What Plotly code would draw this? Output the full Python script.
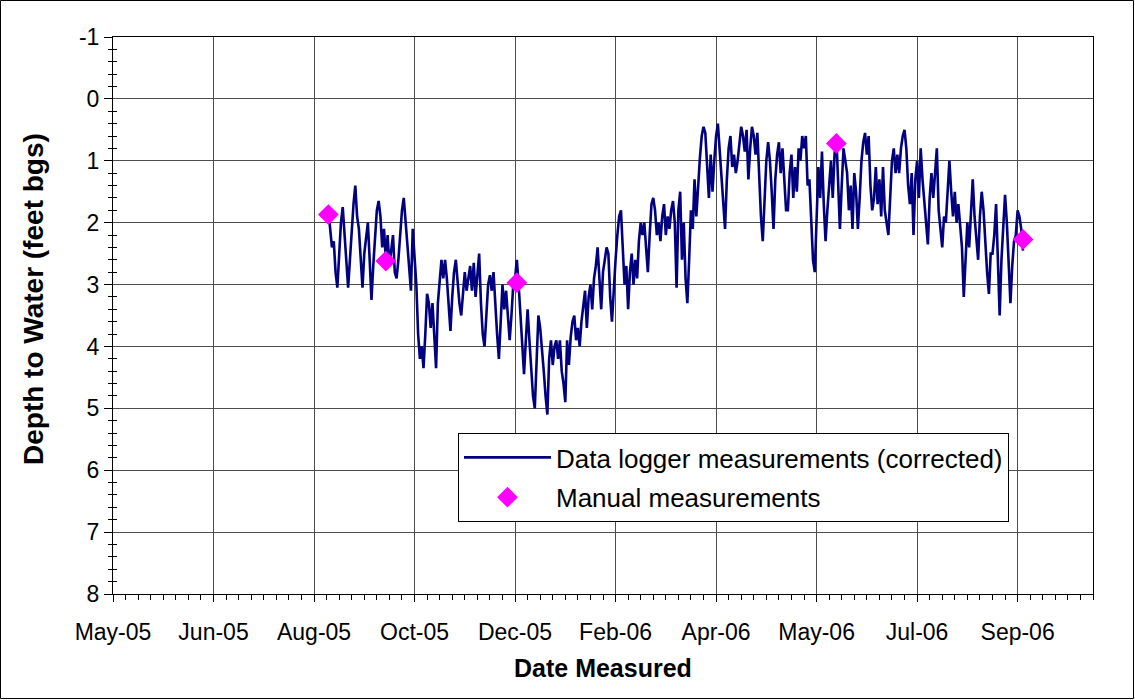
import pandas as pd
import plotly.graph_objects as go

# ---------------- data ----------------
LOGGER_START = "2005-08-29"   # first daily logger reading
LOGGER_DEPTH = [
    1.8, 2.1, 2.4, 2.3, 2.8, 3.05, 2.5, 2.0, 1.75, 2.2,
    2.7, 3.05, 2.6, 2.1, 1.7, 1.4, 1.9, 2.1, 2.6, 3.05,
    2.5, 2.2, 2.0, 2.6, 3.25, 2.7, 2.3, 1.8, 1.65, 1.9,
    2.4, 2.1, 2.6, 2.2, 2.7, 2.4, 2.2, 2.8, 2.9, 2.6,
    2.2, 1.8, 1.6, 2.0, 2.3, 2.8, 3.1, 2.1, 2.6, 3.0,
    3.8, 4.2, 4.0, 4.35, 3.8, 3.15, 3.3, 3.7, 3.3, 3.9,
    4.35, 3.3, 3.0, 2.6, 2.9, 2.6, 2.9, 3.4, 3.75, 3.2,
    2.8, 2.6, 3.0, 3.3, 3.5, 3.2, 2.8, 3.1, 2.9, 2.7,
    3.1, 2.65, 3.2, 2.9, 2.5, 3.3, 3.8, 4.0, 3.5, 3.0,
    2.85, 3.1, 2.8, 3.4, 3.8, 4.2, 3.6, 3.0, 3.4, 3.1,
    3.5, 3.9, 3.5, 3.0, 2.9, 2.6, 3.0, 3.5, 4.0, 4.45,
    3.9, 3.4, 3.9, 4.3, 4.8, 5.0, 4.2, 3.5, 3.7, 4.0,
    4.4, 4.8, 5.1, 4.2, 3.9, 4.3, 4.0, 3.9, 4.2, 3.9,
    4.4, 4.6, 4.9, 3.9, 4.3, 3.85, 3.6, 3.5, 3.9, 3.7,
    4.0, 3.6, 3.3, 3.1, 3.7, 3.2, 3.0, 3.4, 2.9, 2.7,
    2.4, 2.9, 3.4, 2.8, 2.6, 2.4, 2.5, 3.2, 3.6, 3.0,
    2.6, 2.2, 1.9, 1.8, 2.4, 3.0, 2.7, 3.4, 2.8, 2.5,
    3.0, 2.6, 2.9, 2.3, 2.0, 2.2, 2.0, 2.5, 2.8, 2.2,
    1.7, 1.6, 1.8, 2.2, 2.0, 2.3, 1.9, 1.7, 2.2, 1.9,
    2.1, 1.8, 1.65, 2.0, 3.05, 1.8, 1.5, 2.6, 2.0, 2.9,
    3.3, 2.6, 1.8, 2.1, 1.3, 1.9, 1.3, 0.95, 0.6, 0.45,
    0.55, 1.0, 1.6, 0.9, 1.5, 1.0, 0.6, 0.4, 0.8, 1.2,
    1.6, 2.1, 1.3, 0.8, 0.6, 1.1, 0.9, 1.2, 1.0, 0.7,
    0.45, 0.6, 0.85, 0.5, 1.3, 0.8, 0.45, 0.6, 0.9, 0.55,
    1.25, 1.9, 2.3, 1.7, 1.0, 0.7, 1.0, 1.5, 2.1, 1.3,
    0.9, 0.7, 1.2, 0.8, 1.4, 1.8, 1.8, 1.2, 0.9, 1.6,
    1.1, 1.5, 0.8, 1.0, 0.6, 0.8, 0.6, 1.4, 1.3, 2.0,
    2.6, 2.8, 1.8, 1.1, 1.6, 0.85, 1.7, 2.3, 1.8, 1.3,
    1.0, 1.6, 0.9, 0.6, 1.3, 2.1, 1.4, 0.8, 1.0, 1.2,
    1.8, 1.4, 2.1, 1.2, 1.5, 2.1, 1.6, 1.0, 0.7, 0.55,
    0.9, 0.6, 1.4, 1.8, 1.6, 1.1, 1.7, 1.3, 1.9, 1.1,
    1.8, 2.0, 2.2, 1.6, 1.0, 0.8, 1.2, 0.9, 1.2, 0.8,
    0.6, 0.5, 0.8, 1.4, 1.7, 1.2, 2.2, 1.3, 1.0, 1.6,
    0.8, 1.3, 1.7, 2.0, 2.35, 1.6, 1.2, 1.6, 1.1, 0.8,
    1.8, 2.1, 2.4, 1.9, 2.0, 1.5, 1.0, 1.5, 1.9, 1.5,
    2.0, 1.7, 2.1, 2.4, 3.2, 2.5, 2.0, 2.4, 1.8, 1.3,
    1.9, 2.2, 2.6, 1.9, 1.5, 1.8, 2.4, 2.8, 3.15, 2.5,
    2.5, 2.2, 1.7, 2.6, 3.5, 2.6, 2.0, 1.55, 2.0, 2.7,
    3.3, 2.7, 2.3, 2.2, 1.8, 1.9, 2.1, 2.45,
]

MANUAL_DATES = ["2005-08-29", "2005-09-30", "2005-12-12", "2006-06-08", "2006-09-20"]
MANUAL_DEPTH = [1.87, 2.62, 2.97, 0.72, 2.27]

X_TICK_DATES = ["2005-05-01", "2005-06-26", "2005-08-21", "2005-10-16", "2005-12-11",
                "2006-02-05", "2006-04-02", "2006-05-28", "2006-07-23", "2006-09-17"]
X_TICK_LABELS = ["May-05", "Jun-05", "Aug-05", "Oct-05", "Dec-05",
                 "Feb-06", "Apr-06", "May-06", "Jul-06", "Sep-06"]
X_RANGE = ["2005-05-01", "2006-10-29"]

Y_TICK_VALUES = [-1, 0, 1, 2, 3, 4, 5, 6, 7, 8]
Y_TICK_LABELS = ["-1", "0", "1", "2", "3", "4", "5", "6", "7", "8"]
Y_RANGE = [8, -1]

SERIES_NAMES = ["Data logger measurements (corrected)", "Manual measurements"]
X_TITLE = "Date Measured"
Y_TITLE = "Depth to Water (feet bgs)"

# ---------------- layout constants ----------------
W, H = 1135, 700
ML, MR, MT, MB = 113, 42, 37, 106
PW, PH = W - ML - MR, H - MT - MB
FONT = "Liberation Sans, Arial, sans-serif"
GRID = "#4d4d4d"
DAY_MS = 86400000

logger_dates = pd.date_range(LOGGER_START, periods=len(LOGGER_DEPTH), freq="D")

fig = go.Figure()
fig.add_trace(go.Scatter(
    x=logger_dates, y=LOGGER_DEPTH, mode="lines", name=SERIES_NAMES[0],
    legendgroup="logger",
    line=dict(color="#000080", width=2.6),
))
fig.add_trace(go.Scatter(
    x=pd.to_datetime(MANUAL_DATES), y=MANUAL_DEPTH, mode="markers", name=SERIES_NAMES[1],
    legendgroup="manual",
    marker=dict(symbol="diamond", size=16, color="#FF00FF", line=dict(width=0)),
))
# empty helper trace so the overlay axis (crossing minor ticks) is drawn
fig.add_trace(go.Scatter(x=[], y=[], yaxis="y2", showlegend=False, hoverinfo="skip"))

fig.update_layout(
    width=W, height=H,
    margin=dict(l=ML, r=MR, t=MT, b=MB, autoexpand=False),
    paper_bgcolor="white", plot_bgcolor="white",
    font=dict(family=FONT, size=23, color="black"),
    showlegend=True,
    legend=dict(
        x=(458 - ML) / PW, y=(MT + PH - 433) / PH, xanchor="left", yanchor="top",
        bgcolor="white", bordercolor="black", borderwidth=1,
        font=dict(family=FONT, size=26, color="black"),
        itemwidth=87, traceorder="grouped", tracegroupgap=3,
    ),
    xaxis=dict(
        type="date", range=X_RANGE, automargin=False,
        tickmode="array", tickvals=X_TICK_DATES, ticktext=X_TICK_LABELS,
        ticks="outside", ticklen=7, tickwidth=1, tickcolor="black",
        ticklabelstandoff=10,
        tickfont=dict(family=FONT, size=23, color="black"),
        showgrid=True, gridcolor=GRID, gridwidth=1,
        showline=True, linecolor="black", linewidth=1, mirror=True,
        zeroline=False,
        minor=dict(tickmode="linear", tick0=X_RANGE[0], dtick=7 * DAY_MS,
                   ticks="outside", ticklen=5, tickcolor="black", showgrid=False),
    ),
    yaxis=dict(
        range=Y_RANGE, automargin=False,
        tickmode="array", tickvals=Y_TICK_VALUES, ticktext=Y_TICK_LABELS,
        ticks="outside", ticklen=8, tickwidth=1, tickcolor="black",
        tickfont=dict(family=FONT, size=23, color="black"),
        showgrid=True, gridcolor=GRID, gridwidth=1,
        showline=True, linecolor="black", linewidth=1, mirror=True,
        zeroline=False,
        minor=dict(tickmode="linear", tick0=0, dtick=0.2, ticks="outside",
                   ticklen=4, tickcolor="black", showgrid=False),
    ),
    yaxis2=dict(
        range=Y_RANGE, overlaying="y", side="left", anchor="x", automargin=False,
        showticklabels=False, ticks="", showgrid=False, zeroline=False, showline=False,
        minor=dict(tickmode="linear", tick0=0, dtick=0.2, ticks="inside",
                   ticklen=4, tickcolor="black", showgrid=False),
    ),
    annotations=[
        dict(text=f"<b>{X_TITLE}</b>", xref="paper", yref="paper",
             x=0.5, y=(MT + PH - 668) / PH, xanchor="center", yanchor="middle",
             showarrow=False, font=dict(family=FONT, size=25, color="black")),
        dict(text=f"<b>{Y_TITLE}</b>", xref="paper", yref="paper",
             x=(33 - ML) / PW, y=(MT + PH - 299) / PH, xanchor="center", yanchor="middle",
             textangle=-90, showarrow=False, font=dict(family=FONT, size=28, color="black")),
    ],
    shapes=[
        dict(type="rect", xref="paper", yref="paper", layer="above",
             x0=(0.5 - ML) / PW, x1=(W - 1.5 - ML) / PW,
             y0=(MT + PH - (H - 1.5)) / PH, y1=(MT + PH - 0.5) / PH,
             line=dict(color="black", width=1), fillcolor="rgba(0,0,0,0)"),
    ],
)

fig.write_html("out.html", config={"displayModeBar": False},
               post_script="document.body.style.margin='0px';")
